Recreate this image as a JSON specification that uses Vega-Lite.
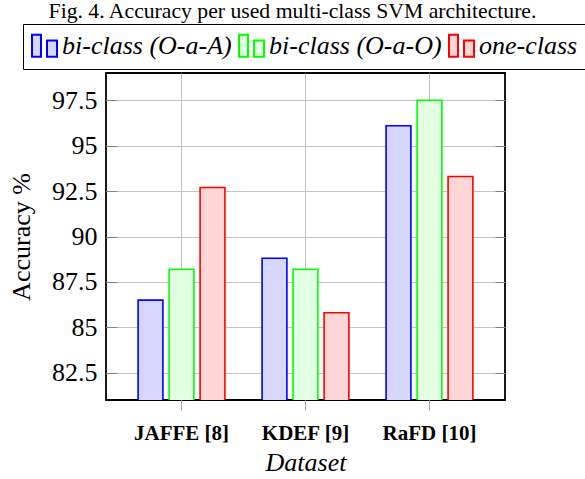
{
  "$schema": "https://vega.github.io/schema/vega-lite/v6.json",
  "width": 399,
  "height": 327,
  "autosize": {"type": "none"},
  "padding": {"left": 106, "top": 73, "right": 80, "bottom": 79},
  "background": "white",
  "title": {
    "text": "Fig. 4.  Accuracy per used multi-class SVM architecture.",
    "anchor": "middle",
    "frame": "group",
    "dx": -13,
    "dy": 23,
    "baseline": "alphabetic",
    "offset": 7,
    "font": "Liberation Serif",
    "fontSize": 21.7,
    "fontWeight": "normal",
    "color": "black"
  },
  "data": {
    "values": [
      {"dataset": "JAFFE [8]", "method": "bi-class (O-a-A)", "acc": 86.5},
      {"dataset": "JAFFE [8]", "method": "bi-class (O-a-O)", "acc": 88.2},
      {"dataset": "JAFFE [8]", "method": "one-class", "acc": 92.7},
      {"dataset": "KDEF [9]", "method": "bi-class (O-a-A)", "acc": 88.8},
      {"dataset": "KDEF [9]", "method": "bi-class (O-a-O)", "acc": 88.2},
      {"dataset": "KDEF [9]", "method": "one-class", "acc": 85.8},
      {"dataset": "RaFD [10]", "method": "bi-class (O-a-A)", "acc": 96.1},
      {"dataset": "RaFD [10]", "method": "bi-class (O-a-O)", "acc": 97.5},
      {"dataset": "RaFD [10]", "method": "one-class", "acc": 93.3}
    ]
  },
  "layer": [
    {
      "mark": {"type": "bar", "strokeWidth": 1.6, "clip": true},
      "encoding": {
        "x": {
          "field": "dataset",
          "type": "nominal",
          "sort": null,
          "scale": {"paddingInner": 0, "paddingOuter": 0.109},
          "axis": {
            "title": "Dataset",
            "titleFont": "Liberation Serif",
            "titleFontStyle": "italic",
            "titleFontWeight": "normal",
            "titleFontSize": 26,
            "titleColor": "black",
            "titlePadding": 6,
            "labelFont": "Liberation Serif",
            "labelFontWeight": "bold",
            "labelFontSize": 21,
            "labelColor": "black",
            "labelAngle": 0,
            "labelPadding": 12,
            "grid": true,
            "gridColor": "#c4c4c4",
            "gridWidth": 1,
            "ticks": true,
            "tickSize": 10,
            "tickColor": "#a8a8a8",
            "tickWidth": 1,
            "domain": false
          }
        },
        "xOffset": {
          "field": "method",
          "type": "nominal",
          "scale": {"paddingInner": 0.2, "paddingOuter": 0.6}
        },
        "y": {
          "field": "acc",
          "type": "quantitative",
          "scale": {"domain": [81, 99], "zero": false, "nice": false},
          "axis": {
            "title": "Accuracy %",
            "titleFont": "Liberation Serif",
            "titleFontWeight": "normal",
            "titleFontSize": 26,
            "titleColor": "black",
            "titlePadding": 17,
            "values": [82.5, 85, 87.5, 90, 92.5, 95, 97.5],
            "format": ".1~f",
            "labelFont": "Liberation Serif",
            "labelFontSize": 26,
            "labelColor": "black",
            "labelPadding": 20,
            "grid": true,
            "gridColor": "#c4c4c4",
            "gridWidth": 1,
            "tickSize": -11,
            "tickColor": "#808080",
            "tickWidth": 1,
            "domain": false
          }
        },
        "fill": {
          "field": "method",
          "type": "nominal",
          "scale": {
            "domain": ["bi-class (O-a-A)", "bi-class (O-a-O)", "one-class"],
            "range": ["#d6d6ff", "#e2ffe2", "#ffd6d6"]
          },
          "legend": {
            "title": null,
            "orient": "none",
            "legendX": -83,
            "legendY": -49,
            "direction": "horizontal",
            "symbolType": "M-1,-0.88H-0.28V0.88H-1Z M0.2,-0.42H1V0.88H0.2Z",
            "symbolSize": 625,
            "symbolStrokeWidth": 2,
            "labelFont": "Liberation Serif",
            "labelFontStyle": "italic",
            "labelFontSize": 26,
            "labelLimit": 400,
            "labelColor": "black",
            "labelOffset": 4,
            "columnPadding": 3,
            "padding": 8,
            "strokeColor": "black",
            "fillColor": "white"
          }
        },
        "stroke": {
          "field": "method",
          "type": "nominal",
          "scale": {
            "domain": ["bi-class (O-a-A)", "bi-class (O-a-O)", "one-class"],
            "range": ["#0000ff", "#00ff00", "#ff0000"]
          },
          "legend": {
            "title": null,
            "orient": "none",
            "legendX": -83,
            "legendY": -49,
            "direction": "horizontal",
            "symbolType": "M-1,-0.88H-0.28V0.88H-1Z M0.2,-0.42H1V0.88H0.2Z",
            "symbolSize": 625,
            "symbolStrokeWidth": 2,
            "labelFont": "Liberation Serif",
            "labelFontStyle": "italic",
            "labelFontSize": 26,
            "labelLimit": 400,
            "labelColor": "black",
            "labelOffset": 4,
            "columnPadding": 3,
            "padding": 8,
            "strokeColor": "black",
            "fillColor": "white"
          }
        }
      }
    },
    {
      "mark": {"type": "point", "opacity": 0},
      "encoding": {
        "y": {
          "field": "acc",
          "type": "quantitative",
          "axis": {
            "orient": "right",
            "title": null,
            "labels": false,
            "grid": false,
            "values": [82.5, 85, 87.5, 90, 92.5, 95, 97.5],
            "tickSize": -10,
            "tickColor": "#808080",
            "tickWidth": 1,
            "domain": false
          }
        }
      }
    }
  ],
  "resolve": {"axis": {"y": "independent"}},
  "config": {
    "view": {"stroke": "black", "strokeWidth": 1.8}
  }
}
